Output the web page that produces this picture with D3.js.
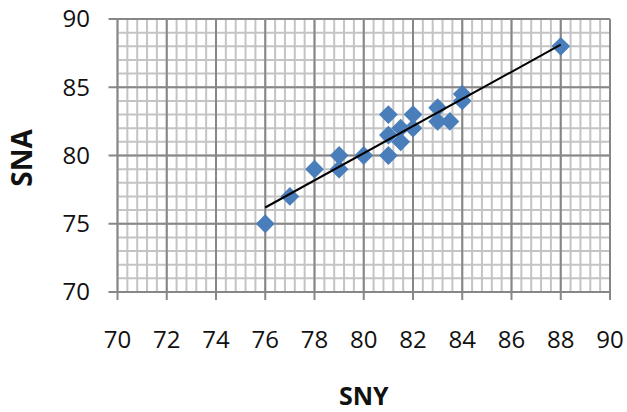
<!DOCTYPE html>
<head>
  <meta charset="utf-8">
  <script src="https://d3js.org/d3.v7.min.js"></script>
  <style>
    body { margin: 0; background: #fff; }
    text { font-family: 'Open Sans', sans-serif; fill: #111; }
    .tick-label { font-size: 24px; }
    .axis-title { font-size: 25px; font-weight: 700; }
  </style>
</head>
<body>
<div id="chart"></div>
<script>

///////////////////////////////////////////////////////////////////////////
//////////////////////////////// Data /////////////////////////////////////
///////////////////////////////////////////////////////////////////////////

const sny = [76, 77, 78, 79, 79, 80, 81, 81, 81, 81.5, 81.5, 82, 82, 83, 83, 83.5, 84, 84, 88];
const sna = [75, 77, 79, 80, 79, 80, 80, 83, 81.5, 82, 81, 83, 82, 83.5, 82.5, 82.5, 84, 84.5, 88];

const xTicks = [70, 72, 74, 76, 78, 80, 82, 84, 86, 88, 90];
const yTicks = [70, 75, 80, 85, 90];

const points = sny.map((d, i) => ({ x: d, y: sna[i] }));

///////////////////////////////////////////////////////////////////////////
//////////////////////////// Set up svg ///////////////////////////////////
///////////////////////////////////////////////////////////////////////////

const width = 627, height = 412;
const plot = { left: 117.5, right: 610, top: 19, bottom: 292 };

const svg = d3.select('#chart')
    .append("svg")
    .attr("width", width)
    .attr("height", height);

const x = d3.scaleLinear().domain([70, 90]).range([plot.left, plot.right]);
const y = d3.scaleLinear().domain([70, 90]).range([plot.bottom, plot.top]);

///////////////////////////////////////////////////////////////////////////
//////////////////////////////// Grid /////////////////////////////////////
///////////////////////////////////////////////////////////////////////////

const minorX = d3.range(0, 51).map(i => 70 + i * 0.4);
const minorY = d3.range(70, 91, 1);

const grid = svg.append("g");

grid.selectAll(".minor-x").data(minorX).enter().append("line")
    .attr("x1", d => x(d)).attr("x2", d => x(d))
    .attr("y1", plot.top).attr("y2", plot.bottom)
    .style("stroke", "#c4c4c4").style("stroke-width", 2);

grid.selectAll(".minor-y").data(minorY).enter().append("line")
    .attr("x1", plot.left).attr("x2", plot.right)
    .attr("y1", d => y(d)).attr("y2", d => y(d))
    .style("stroke", "#c4c4c4").style("stroke-width", 2);

grid.selectAll(".major-x").data(xTicks).enter().append("line")
    .attr("x1", d => x(d)).attr("x2", d => x(d))
    .attr("y1", plot.top).attr("y2", plot.bottom + 8)
    .style("stroke", "#878787").style("stroke-width", 2);

grid.selectAll(".major-y").data(yTicks).enter().append("line")
    .attr("x1", plot.left - 9).attr("x2", plot.right)
    .attr("y1", d => y(d)).attr("y2", d => y(d))
    .style("stroke", "#878787").style("stroke-width", 2);

///////////////////////////////////////////////////////////////////////////
//////////////////////////////// Labels ///////////////////////////////////
///////////////////////////////////////////////////////////////////////////

svg.selectAll(".xlab").data(xTicks).enter().append("text")
    .attr("class", "tick-label")
    .attr("x", d => x(d))
    .attr("y", 340)
    .attr("dy", "0.35em")
    .attr("text-anchor", "middle")
    .text(d => d);

svg.selectAll(".ylab").data(yTicks).enter().append("text")
    .attr("class", "tick-label")
    .attr("x", 90)
    .attr("y", d => y(d))
    .attr("dy", "0.35em")
    .attr("text-anchor", "end")
    .text(d => d);

svg.append("text")
    .attr("class", "axis-title")
    .attr("x", (plot.left + plot.right) / 2)
    .attr("y", 396)
    .attr("dy", "0.35em")
    .attr("text-anchor", "middle")
    .text("SNY");

svg.append("text")
    .attr("class", "axis-title")
    .attr("transform", "translate(22," + 158 + ") rotate(-90)")
    .attr("dy", "0.35em")
    .attr("text-anchor", "middle")
    .style("font-size", "28px")
    .text("SNA");

///////////////////////////////////////////////////////////////////////////
//////////////////////////// Points + trend ///////////////////////////////
///////////////////////////////////////////////////////////////////////////

const diamond = d3.symbol().type(d3.symbolDiamond2).size(225);

svg.selectAll(".pt").data(points).enter().append("path")
    .attr("d", diamond)
    .attr("transform", d => "translate(" + x(d.x) + "," + y(d.y) + ")")
    .style("fill", "#4a7ebb");

// least squares trendline, drawn over the observed x range
const mx = d3.mean(points, d => d.x), my = d3.mean(points, d => d.y);
const slope = d3.sum(points, d => (d.x - mx) * (d.y - my)) / d3.sum(points, d => (d.x - mx) ** 2);
const icpt = my - slope * mx;
const xExt = d3.extent(points, d => d.x);

svg.append("line")
    .attr("x1", x(xExt[0])).attr("y1", y(icpt + slope * xExt[0]))
    .attr("x2", x(xExt[1])).attr("y2", y(icpt + slope * xExt[1]))
    .style("stroke", "#000").style("stroke-width", 2);

</script>
</body>
